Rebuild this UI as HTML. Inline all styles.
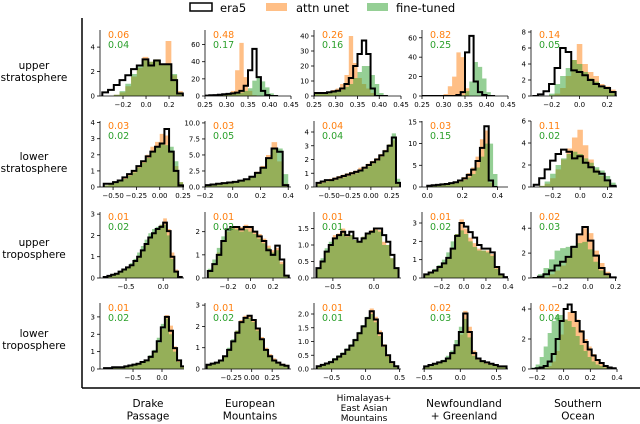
<!DOCTYPE html>
<html><head><meta charset="utf-8"><style>
html,body{margin:0;padding:0;background:#fff;}
svg{display:block;font-family:"DejaVu Sans","Liberation Sans",sans-serif;}
</style></head><body>
<svg id="fig" width="640" height="424" viewBox="0 0 640 424" xmlns="http://www.w3.org/2000/svg">
  <g>
    <rect x="190" y="3" width="22" height="8" fill="#fff" stroke="#000" stroke-width="1.5"/>
    <text x="220" y="12" font-size="11.5">era5</text>
    <rect x="266" y="3" width="21" height="8" fill="rgba(255,127,14,0.5)"/>
    <text x="296" y="12" font-size="11.5">attn unet</text>
    <rect x="367" y="3" width="21" height="8" fill="rgba(44,160,44,0.5)"/>
    <text x="396" y="12" font-size="11.5">fine-tuned</text>
  </g>
  <line x1="82" y1="18" x2="82" y2="388" stroke="#000" stroke-width="1.5"/>
  <line x1="82" y1="388" x2="640" y2="388" stroke="#000" stroke-width="1.5"/>
  <g font-size="10.5" text-anchor="middle">
    <text x="34" y="69"><tspan x="34">upper</tspan><tspan x="34" dy="12">stratosphere</tspan></text>
    <text x="34" y="160"><tspan x="34">lower</tspan><tspan x="34" dy="12">stratosphere</tspan></text>
    <text x="34" y="246"><tspan x="34">upper</tspan><tspan x="34" dy="12">troposphere</tspan></text>
    <text x="34" y="337"><tspan x="34">lower</tspan><tspan x="34" dy="12">troposphere</tspan></text>
  </g>
  <g font-size="10.5" text-anchor="middle">
    <text x="148" y="407"><tspan x="148">Drake</tspan><tspan x="148" dy="12.5">Passage</tspan></text>
    <text x="250" y="407"><tspan x="250">European</tspan><tspan x="250" dy="12.5">Mountains</tspan></text>
    <text x="364" y="401" font-size="9"><tspan x="364">Himalayas+</tspan><tspan x="364" dy="10">East Asian</tspan><tspan x="364" dy="10">Mountains</tspan></text>
    <text x="464" y="407"><tspan x="464">Newfoundland</tspan><tspan x="464" dy="12.5">+ Greenland</tspan></text>
    <text x="578" y="407"><tspan x="578">Southern</tspan><tspan x="578" dy="12.5">Ocean</tspan></text>
  </g>
  <g id="panels"></g>
</svg>
<script>
// ---- data (panel order: row-major, 4 rows x 5 cols) ----
const xLims = [[-0.4,0.33],[0.25,0.45],[0.25,0.45],[0.25,0.45],[-0.35,0.27],
 [-0.64,0.26],[-0.2,0.42],[-0.68,0.36],[-0.03,0.46],[-0.36,0.27],
 [-0.85,0.28],[-0.405,0.36],[-0.73,0.33],[-0.38,0.4],[-0.41,0.21],
 [-1.07,0.38],[-0.57,0.48],[-0.76,0.52],[-0.53,0.66],[-0.245,0.4]];
const yMaxes = [5.4,77,44,68,8.25, 4.1,10.3,4.8,15.2,6.0, 3.1,2.85,2.0,3.6,5.3, 3.8,3.1,2.4,2.5,4.4];
const binStarts = [-0.38,0.25,0.25,0.25,-0.34, -0.6,-0.2,-0.65,0,-0.34, -0.8,-0.38,-0.7,-0.36,-0.4, -1.0,-0.55,-0.72,-0.5,-0.24];
const binWidths = [0.05,0.01,0.01,0.01,0.04, 0.05,0.04,0.05,0.025,0.04, 0.05,0.04,0.05,0.04,0.04, 0.07,0.05,0.06,0.06,0.03];
const era5 = [
 [0.3,0.5,0.9,1.3,1.7,2.2,2.5,3.0,2.5,2.9,2.6,2.6,1.3,0.2],
 [0.5,0.8,1,1.5,2,2.5,3,4,6,12,30,55,22,6,1,0,0],
 [2,2,2,2.5,3,3.5,5,8,12,20,28,37,28,5,0,0,0],
 [0,0,0,0,0,0,0,0,1,4,45,62,15,4,1,0,0],
 [0,0.2,0.6,1.5,3.5,6,5.5,3.2,3,2.6,2,1.5,1.2,1,0.5],
 [0.2,0.2,0.3,0.4,0.6,0.8,1.0,1.3,1.6,1.9,2.2,2.5,2.7,3.6,2.2,1.0,0.1],
 [0.3,0.4,0.5,0.6,0.7,0.8,1,1.2,1.6,2.2,3,4.5,6,5.5,0.3],
 [0.3,0.4,0.5,0.5,0.6,0.7,0.8,0.9,1.0,1.1,1.2,1.4,1.6,1.8,2.0,2.3,2.6,3.0,3.6,0.3],
 [0.3,0.4,0.5,0.6,0.7,0.9,1.1,1.5,2,2.8,4,6,9,14,1.5,0],
 [0.2,0.8,1.6,2.4,3.0,3.4,3.2,2.6,2.8,2.2,1.8,1.4,1.2,0.6,0.1],
 [0.05,0.1,0.15,0.2,0.3,0.4,0.5,0.6,0.8,1.0,1.3,1.6,1.9,2.1,2.3,2.4,2.6,2.2,1.0,0.3,0.05],
 [0.3,0.6,1.0,1.6,2.1,2.2,2.2,2.1,2.2,2.2,2.0,1.8,1.6,1.2,1.0,1.4,0.8,0.1],
 [0.3,0.5,0.8,1.0,1.2,1.3,1.4,1.3,1.4,1.2,1.1,1.2,1.35,1.4,1.5,1.5,1.3,1.1,0.7,0.3],
 [0.2,0.3,0.4,0.6,0.8,1.1,1.6,2.3,3.0,2.8,2.5,2.2,1.8,1.6,1.6,1.4,0.6,0.2,0.05],
 [0,0.1,0.3,0.6,1.0,1.3,1.7,2.5,3.5,4.1,3.0,1.8,0.8,0.3,0.05],
 [0.05,0.05,0.1,0.1,0.1,0.15,0.2,0.25,0.3,0.4,0.5,0.7,1.0,1.6,2.4,3.0,2.2,1.2,0.5,0.15],
 [0.2,0.25,0.3,0.4,0.6,0.9,1.3,1.7,2.2,2.4,2.5,2.3,1.9,1.4,0.9,0.6,0.4,0.3,0.2,0.15],
 [0.1,0.15,0.2,0.25,0.35,0.45,0.55,0.7,0.85,1.05,1.3,1.55,1.85,2.1,1.8,1.3,0.85,0.5,0.25,0.1],
 [0.1,0.15,0.2,0.25,0.3,0.4,0.6,0.9,1.4,2.1,1.4,0.6,0.4,0.3,0.25,0.2,0.15,0.1,0.1],
 [0,0.05,0.1,0.2,0.5,1.0,2.0,3.2,4.0,4.3,3.8,3.2,2.5,1.8,1.3,0.9,0.6,0.4,0.2,0.1,0.05]];
const attnUnet = [
 [0,0,0.1,0.3,0.8,1.6,2.3,3.2,2.8,3.0,2.6,4.5,1.7,0.4],
 [0.5,0.8,1,1.5,2,3,6,30,62,22,6,1,0,0,0,0,0],
 [2,2,2.5,3,4,5,8,14,40,22,12,8,5,2,0.5,0,0],
 [0,0,0,0,0,2,10,20,45,40,8,0,0,0,0,0,0],
 [0,0,0,0.1,0.3,1,2.5,4.5,6.5,4,3,2.5,1.5,1.2,0.8],
 [0.1,0.2,0.3,0.4,0.6,0.8,1.0,1.3,1.6,2.0,2.5,2.8,3.3,3.2,2.2,1.3,0.3],
 [0.3,0.4,0.5,0.6,0.7,0.8,1,1.3,1.7,2.4,3.3,5,7,4,0.5],
 [0.3,0.4,0.5,0.6,0.7,0.8,0.9,1.0,1.1,1.2,1.4,1.5,1.7,1.9,2.1,2.4,2.7,3.1,3.4,0.3],
 [0.3,0.4,0.5,0.6,0.7,0.9,1.2,1.7,2.3,3.2,4.5,7,11,13,1,0],
 [0,0.1,0.3,0.8,1.6,2.5,3.5,4.5,5.2,3.8,2.5,1.6,1,0.5,0.1],
 [0.05,0.1,0.15,0.2,0.3,0.4,0.5,0.6,0.8,1.0,1.3,1.6,1.9,2.1,2.3,2.5,2.8,2.3,1.2,0.4,0.1],
 [0.3,0.6,1.1,1.6,2.0,2.2,2.2,2.2,2.3,2.2,2.0,1.9,1.7,1.4,1.2,1.3,0.7,0.1],
 [0.3,0.5,0.8,1.0,1.3,1.35,1.5,1.3,1.3,1.15,1.1,1.25,1.35,1.45,1.5,1.45,1.1,1.0,0.6,0.3],
 [0.2,0.3,0.4,0.6,0.8,1.1,1.6,2.4,3.2,2.7,2.2,1.9,1.6,1.5,1.5,1.3,0.6,0.2,0.05],
 [0,0,0.1,0.3,0.6,1.0,1.6,2.4,3.4,4.0,3.6,2.2,1.2,0.5,0.1],
 [0.05,0.05,0.1,0.1,0.1,0.15,0.2,0.25,0.3,0.4,0.5,0.7,1.0,1.5,2.3,3.1,2.5,1.3,0.5,0.15],
 [0.2,0.25,0.3,0.4,0.6,0.9,1.3,1.8,2.3,2.5,2.5,2.3,1.9,1.5,1.0,0.7,0.5,0.35,0.25,0.2],
 [0.1,0.15,0.2,0.25,0.35,0.45,0.55,0.7,0.85,1.05,1.3,1.55,1.85,2.2,1.9,1.4,0.9,0.5,0.25,0.1],
 [0.1,0.15,0.2,0.25,0.3,0.4,0.6,0.9,1.3,2.2,1.6,0.7,0.4,0.3,0.25,0.2,0.15,0.1,0.1],
 [0,0,0.05,0.1,0.2,0.5,1.2,2.3,3.3,3.8,3.8,3.3,2.6,2.0,1.5,1.0,0.6,0.35,0.2,0.1,0.05]];
const fineTuned = [
 [0,0,0.1,0.4,1.0,1.8,2.4,2.9,2.8,3.0,2.6,2.6,1.8,0.3],
 [0.3,0.6,0.8,1,1.5,2,2.5,3,4,6,9,18,22,17,10,3,0.5],
 [1.5,1.5,2,2,2.5,3,4,6,8,12,16,20,20,14,8,2,0],
 [0,0,0,0,0,0,0,0,0,1,5,15,35,30,18,4,0],
 [0,0,0,0.3,1.5,2.5,3.5,4.5,4,3,2.2,1.8,1.2,1,0.6],
 [0.1,0.2,0.3,0.4,0.5,0.7,0.9,1.2,1.5,1.8,2.2,2.5,2.7,2.6,2.5,1.6,0.3],
 [0.3,0.3,0.4,0.5,0.6,0.8,1,1.2,1.6,2.2,3,4.5,6,6,2],
 [0.2,0.3,0.4,0.5,0.5,0.6,0.7,0.8,0.9,1.0,1.2,1.3,1.5,1.7,1.9,2.2,2.6,3.1,3.9,0.6],
 [0.2,0.3,0.4,0.5,0.6,0.7,0.9,1.2,1.6,2.2,3,4.5,7,10,10,3],
 [0,0.1,0.5,1.2,2,2.6,3,3.2,3,2.6,2.2,1.8,1.5,1,0.4],
 [0.05,0.1,0.15,0.2,0.3,0.4,0.5,0.7,0.9,1.2,1.5,1.8,2.1,2.3,2.4,2.5,2.5,2.0,0.9,0.3,0.05],
 [0.4,0.8,1.3,1.8,2.1,2.2,2.1,2.0,2.1,2.0,1.9,1.7,1.5,1.3,1.1,1.2,0.6,0.1],
 [0.3,0.6,0.9,1.1,1.2,1.3,1.35,1.25,1.3,1.15,1.1,1.25,1.35,1.4,1.45,1.4,1.0,1.0,0.6,0.3],
 [0.2,0.3,0.5,0.7,1.0,1.4,2.0,2.4,2.6,2.4,2.0,1.7,1.5,1.5,1.4,1.2,0.5,0.2,0.05],
 [0,0.3,0.8,1.5,2.2,2.4,2.5,2.6,2.8,2.9,2.3,1.3,0.6,0.2,0.05],
 [0.05,0.05,0.1,0.1,0.1,0.15,0.2,0.25,0.3,0.4,0.5,0.8,1.1,1.8,2.6,2.9,2.0,1.0,0.4,0.1],
 [0.2,0.25,0.3,0.4,0.6,1.0,1.4,1.8,2.2,2.4,2.4,2.2,1.8,1.4,0.9,0.6,0.4,0.3,0.2,0.15],
 [0.1,0.15,0.2,0.3,0.4,0.5,0.6,0.75,0.9,1.1,1.35,1.6,1.9,2.0,1.7,1.2,0.8,0.45,0.2,0.1],
 [0.1,0.15,0.2,0.25,0.35,0.5,0.7,1.1,1.6,1.9,1.2,0.5,0.35,0.3,0.2,0.2,0.15,0.1,0.1],
 [0.1,0.3,0.8,1.5,2.4,3.2,3.6,3.6,3.3,3.2,2.8,2.2,1.6,1.2,0.8,0.5,0.3,0.2,0.1,0.05,0.02]];
const scoreAttn = ["0.06","0.48","0.26","0.82","0.14","0.03","0.03","0.04","0.03","0.11","0.01","0.01","0.01","0.01","0.02","0.01","0.01","0.01","0.02","0.02"];
const scoreTuned = ["0.04","0.17","0.16","0.25","0.05","0.02","0.05","0.04","0.15","0.02","0.02","0.02","0.01","0.02","0.03","0.02","0.02","0.01","0.03","0.04"];
const xTickLabels = [
 ["−0.2","0.0","0.2"],["0.25","0.30","0.35","0.40","0.45"],["0.25","0.30","0.35","0.40","0.45"],["0.25","0.30","0.35","0.40","0.45"],["−0.2","0.0","0.2"],
 ["−0.50","−0.25","0.00","0.25"],["−0.2","0.0","0.2","0.4"],["−0.50","−0.25","0.00","0.25"],["0.0","0.2","0.4"],["−0.2","0.0","0.2"],
 ["−0.5","0.0"],["−0.2","0.0","0.2"],["−0.5","0.0"],["−0.2","0.0","0.2","0.4"],["−0.2","0.0","0.2"],
 ["−0.5","0.0"],["−0.25","0.00","0.25"],["−0.5","0.0","0.5"],["−0.5","0.0","0.5"],["−0.2","0.0","0.2","0.4"]];
const yTickLabels = [
 ["0","2","4"],["0","20","40","60"],["0","10","20","30","40"],["0","20","40","60"],["0","2","4","6","8"],
 ["0","1","2","3","4"],["0.0","2.5","5.0","7.5","10.0"],["0","1","2","3","4"],["0","5","10","15"],["0","2","4","6"],
 ["0","1","2","3"],["0","1","2"],["0.0","0.5","1.0","1.5"],["0","1","2","3"],["0","2","4"],
 ["0","1","2","3"],["0","1","2","3"],["0.0","0.5","1.0","1.5","2.0"],[],["0","2","4"]];
const rowNames = ["upper-stratosphere","lower-stratosphere","upper-troposphere","lower-troposphere"];
const colNames = ["drake-passage","european-mountains","himalayas","newfoundland","southern-ocean"];

// ---- layout ----
const colX = [[100,184],[205,291],[314,401],[422,508],[531,617]];
const rowBottom = [96,187,278,369];
const axH = 66;
const NS = "http://www.w3.org/2000/svg";
function mk(tag, attrs, parent){ const e=document.createElementNS(NS,tag); for(const k in attrs) e.setAttribute(k,attrs[k]); if(parent) parent.appendChild(e); return e; }
const num = s => parseFloat(s.replace('−','-'));
const root = document.getElementById('panels');

for(let p=0;p<20;p++){
  const r=Math.floor(p/5), c=p%5;
  const x0=colX[c][0], x1=colX[c][1], yb=rowBottom[r], yt=yb-axH;
  const [xa,xb]=xLims[p], ym=yMaxes[p];
  const X = v => x0+(v-xa)/(xb-xa)*(x1-x0);
  const Y = v => yb-(v/ym)*axH;
  const g = mk('g',{},root);
  
  
  const clipId='clip'+p;
  const cp=mk('clipPath',{id:clipId},g); mk('rect',{x:x0,y:yt-8,width:x1-x0,height:axH+8},cp);
  const hist = mk('g',{'clip-path':'url(#'+clipId+')'},g);
  const bs=binStarts[p], bw=binWidths[p];
  const drawBars=(arr,fill,name)=>{
    let d='';
    arr.forEach((v,i)=>{ if(v<=0) return; const xl=X(bs+i*bw), xr=X(bs+(i+1)*bw), yy=Y(v);
      d+=`M${xl.toFixed(2)},${yb}V${yy.toFixed(2)}H${xr.toFixed(2)}V${yb}Z`; });
    const el=mk('path',{d:d,fill:fill},hist);
    
    
  };
  drawBars(attnUnet[p],'rgba(255,127,14,0.5)','attn-unet-histogram');
  drawBars(fineTuned[p],'rgba(44,160,44,0.5)','fine-tuned-histogram');
  let d=`M${X(bs).toFixed(2)},${yb}`;
  era5[p].forEach((v,i)=>{ d+=`V${Y(v).toFixed(2)}H${X(bs+(i+1)*bw).toFixed(2)}`; });
  d+=`V${yb}`;
  const st=mk('path',{d:d,fill:'none',stroke:'#000','stroke-width':2,'stroke-linejoin':'miter'},hist);
  
  
  if(yTickLabels[p].length){
    const sl=mk('line',{x1:x0,y1:yt,x2:x0,y2:yb,stroke:'#000','stroke-width':0.8},g);
    
    
  }
  const sb=mk('line',{x1:x0,y1:yb,x2:x1,y2:yb,stroke:'#000','stroke-width':0.8},g);
  
  
  xTickLabels[p].forEach(lbl=>{
    const xx=X(num(lbl));
    mk('line',{x1:xx,y1:yb,x2:xx,y2:yb+3,stroke:'#000','stroke-width':0.8},g);
    const t=mk('text',{x:xx,y:yb+11,'font-size':7,'text-anchor':'middle'},g);
    t.textContent=lbl;
    
    
  });
  yTickLabels[p].forEach(lbl=>{
    const yy=Y(num(lbl));
    mk('line',{x1:x0-3,y1:yy,x2:x0,y2:yy,stroke:'#000','stroke-width':0.8},g);
    const t=mk('text',{x:x0-5,y:yy+2.5,'font-size':7,'text-anchor':'end'},g);
    t.textContent=lbl;
    
    
  });
  const ta=mk('text',{x:x0+8,y:yt+8,'font-size':9.5,fill:'#ff7f0e'},g);
  ta.textContent=scoreAttn[p];
  
  
  const tt=mk('text',{x:x0+8,y:yt+18,'font-size':9.5,fill:'#2ca02c'},g);
  tt.textContent=scoreTuned[p];
  
  
}
</script>
</body></html>
